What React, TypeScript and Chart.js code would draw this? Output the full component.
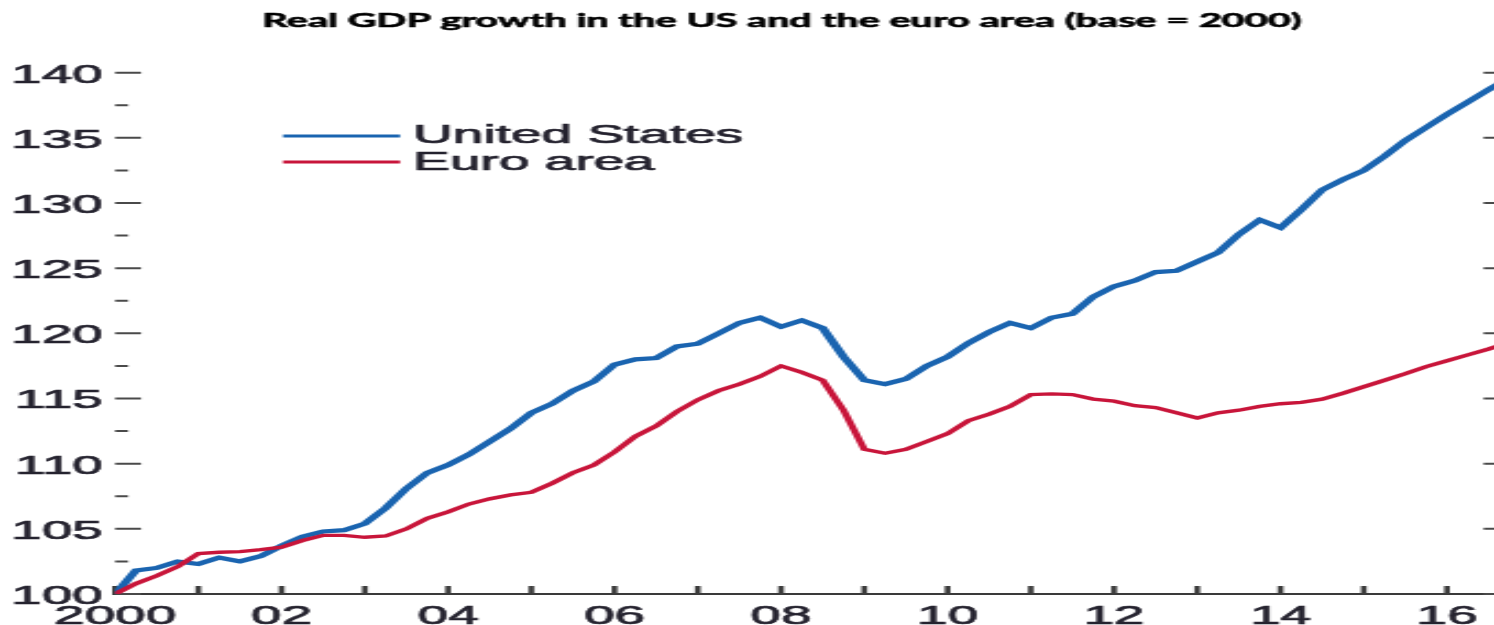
import React, { useEffect, useRef } from "react";
import { Chart, registerables } from "chart.js";

Chart.register(...registerables);

const TITLE = "Real GDP growth in the US and the euro area (base = 2000)";

const QUARTERS = [
  "2000Q1", "2000Q2", "2000Q3", "2000Q4",
  "2001Q1", "2001Q2", "2001Q3", "2001Q4",
  "2002Q1", "2002Q2", "2002Q3", "2002Q4",
  "2003Q1", "2003Q2", "2003Q3", "2003Q4",
  "2004Q1", "2004Q2", "2004Q3", "2004Q4",
  "2005Q1", "2005Q2", "2005Q3", "2005Q4",
  "2006Q1", "2006Q2", "2006Q3", "2006Q4",
  "2007Q1", "2007Q2", "2007Q3", "2007Q4",
  "2008Q1", "2008Q2", "2008Q3", "2008Q4",
  "2009Q1", "2009Q2", "2009Q3", "2009Q4",
  "2010Q1", "2010Q2", "2010Q3", "2010Q4",
  "2011Q1", "2011Q2", "2011Q3", "2011Q4",
  "2012Q1", "2012Q2", "2012Q3", "2012Q4",
  "2013Q1", "2013Q2", "2013Q3", "2013Q4",
  "2014Q1", "2014Q2", "2014Q3", "2014Q4",
  "2015Q1", "2015Q2", "2015Q3", "2015Q4",
  "2016Q1", "2016Q2", "2016Q3", "2016Q4",
];

const US = [
  100.0, 101.8, 102.0, 102.5,
  102.3, 102.8, 102.5, 102.9,
  103.7, 104.4, 104.8, 104.9,
  105.4, 106.6, 108.1, 109.3,
  109.9, 110.7, 111.7, 112.7,
  113.9, 114.6, 115.6, 116.3,
  117.6, 118.0, 118.1, 119.0,
  119.2, 120.0, 120.8, 121.2,
  120.5, 121.0, 120.4, 118.2,
  116.4, 116.1, 116.5, 117.5,
  118.2, 119.25, 120.1, 120.8,
  120.4, 121.2, 121.5, 122.8,
  123.6, 124.05, 124.7, 124.8,
  125.5, 126.2, 127.6, 128.7,
  128.1, 129.5, 131.0, 131.8,
  132.5, 133.6, 134.8, 135.8,
  136.8, 137.75, 138.7, 139.6,
];

const EA = [
  100.0, 100.8, 101.4, 102.1,
  103.1, 103.2, 103.25, 103.4,
  103.6, 104.1, 104.5, 104.5,
  104.35, 104.45, 105.0, 105.8,
  106.3, 106.9, 107.3, 107.6,
  107.8, 108.5, 109.3, 109.9,
  110.9, 112.1, 112.9, 114.0,
  114.9, 115.6, 116.1, 116.7,
  117.5, 117.0, 116.4, 114.1,
  111.1, 110.8, 111.1, 111.7,
  112.3, 113.3, 113.8, 114.4,
  115.3, 115.35, 115.3, 114.95,
  114.8, 114.45, 114.3, 113.9,
  113.5, 113.9, 114.1, 114.4,
  114.6, 114.7, 114.95, 115.4,
  115.9, 116.4, 116.9, 117.45,
  117.9, 118.35, 118.8, 119.3,
];

const SERIES_LABELS = ["United States", "Euro area"];
const SERIES_COLORS = ["#1a64b0", "#c8153a"];

const X_TICK_YEARS = [2000, 2001, 2002, 2003, 2004, 2005, 2006, 2007, 2008, 2009, 2010, 2011, 2012, 2013, 2014, 2015, 2016];
const X_LABEL_YEARS = [2000, 2002, 2004, 2006, 2008, 2010, 2012, 2014, 2016];
const X_LABELS = ["2000", "02", "04", "06", "08", "10", "12", "14", "16"];

const Y_MAJOR = [100, 105, 110, 115, 120, 125, 130, 135, 140];
const Y_MINOR = [102.5, 107.5, 112.5, 117.5, 122.5, 127.5, 132.5, 137.5];

const X_MIN = 2000;
const X_MAX = 2016.75;
const Y_MIN = 100;
const Y_MAX = 141;

// horizontal stretch of the whole picture (canvas drawn narrow, displayed wide)
const STRETCH = 2.2;
const CANVAS_W = 690;
const CANVAS_H = 625;

const quarterToX = (q: string) => {
  const y = parseInt(q.slice(0, 4), 10);
  const n = parseInt(q.slice(5), 10);
  return y + (n - 1) / 4;
};

const FONT_FAMILY = "'Liberation Sans', Arial, Helvetica, sans-serif";
const TEXT_COLOR = "#24222e";
const TICK_COLOR = "#4a4a4a";

const tickMarksPlugin = {
  id: "tickMarks",
  beforeDatasetsDraw(chart: any) {
    const { ctx, chartArea, scales } = chart;
    const xs = scales.x;
    const ys = scales.y;
    ctx.save();
    ctx.strokeStyle = TICK_COLOR;
    ctx.lineWidth = 2;
    const left = chartArea.left;
    const right = chartArea.right;
    const drawY = (v: number, len: number) => {
      const py = ys.getPixelForValue(v);
      ctx.beginPath();
      ctx.moveTo(left, py);
      ctx.lineTo(left + len, py);
      ctx.moveTo(right, py);
      ctx.lineTo(right - len, py);
      ctx.stroke();
    };
    Y_MAJOR.forEach((v) => drawY(v, 11.8));
    Y_MINOR.forEach((v) => drawY(v, 5.9));
    ctx.lineWidth = 2.6;
    ctx.strokeStyle = "#3c3c3c";
    X_TICK_YEARS.forEach((yr) => {
      const px = xs.getPixelForValue(yr);
      ctx.beginPath();
      ctx.moveTo(px, chartArea.bottom);
      ctx.lineTo(px, chartArea.bottom - 8);
      ctx.stroke();
    });
    ctx.restore();
  },
};

const titleLegendPlugin = {
  id: "titleLegend",
  afterDraw(chart: any) {
    const { ctx } = chart;
    ctx.save();
    // title
    ctx.fillStyle = "#000";
    ctx.strokeStyle = "#000";
    ctx.lineWidth = 0.6;
    ctx.font = "bold 18px Lato, 'Open Sans', sans-serif";
    ctx.textAlign = "center";
    ctx.textBaseline = "alphabetic";
    ctx.fillText(TITLE, 782 / STRETCH, 27);
    ctx.strokeText(TITLE, 782 / STRETCH, 27);
    // legend
    const rows = [136, 162];
    const textBase = [143, 170];
    chart.data.datasets.forEach((ds: any, i: number) => {
      ctx.strokeStyle = ds.borderColor;
      ctx.lineWidth = 3;
      ctx.beginPath();
      ctx.moveTo(283 / STRETCH, rows[i]);
      ctx.lineTo(400 / STRETCH, rows[i]);
      ctx.stroke();
      ctx.fillStyle = TEXT_COLOR;
      ctx.strokeStyle = TEXT_COLOR;
      ctx.lineWidth = 0.7;
      ctx.font = `25px ${FONT_FAMILY}`;
      ctx.textAlign = "left";
      ctx.textBaseline = "alphabetic";
      ctx.fillText(ds.label, 413 / STRETCH, textBase[i]);
      ctx.strokeText(ds.label, 413 / STRETCH, textBase[i]);
    });
    ctx.restore();
  },
};

export default function App() {
  const canvasRef = useRef<HTMLCanvasElement | null>(null);

  useEffect(() => {
    const canvas = canvasRef.current;
    if (!canvas) return;
    const xs = QUARTERS.map(quarterToX);
    const chart = new Chart(canvas, {
      type: "line",
      data: {
        datasets: [
          {
            label: SERIES_LABELS[0],
            data: xs.map((x, i) => ({ x, y: US[i] })),
            borderColor: SERIES_COLORS[0],
            backgroundColor: SERIES_COLORS[0],
            borderWidth: 4.2,
            pointRadius: 0,
            tension: 0,
            fill: false,
            order: 2,
          },
          {
            label: SERIES_LABELS[1],
            data: xs.map((x, i) => ({ x, y: EA[i] })),
            borderColor: SERIES_COLORS[1],
            backgroundColor: SERIES_COLORS[1],
            borderWidth: 3.4,
            pointRadius: 0,
            tension: 0,
            fill: false,
            order: 1,
          },
        ],
      },
      options: {
        responsive: false,
        animation: false,
        events: [],
        layout: { padding: { left: 0, right: 3.9, top: 59.6, bottom: 0 } },
        plugins: {
          legend: { display: false },
          title: { display: false },
          tooltip: { enabled: false },
        },
        scales: {
          x: {
            type: "linear",
            min: X_MIN,
            max: X_MAX,
            grid: { display: false, drawTicks: false },
            border: { display: true, color: "#3a3a3a", width: 2 },
            afterBuildTicks: (s: any) => {
              s.ticks = X_LABEL_YEARS.map((v) => ({ value: v }));
            },
            afterFit: (s: any) => {
              s.height = 31;
            },
            ticks: {
              autoSkip: false,
              maxRotation: 0,
              padding: 11,
              color: TEXT_COLOR,
              textStrokeColor: TEXT_COLOR,
              textStrokeWidth: 0.7,
              font: { family: FONT_FAMILY, size: 25, lineHeight: 1 },
              callback: (v: any) => {
                const i = X_LABEL_YEARS.indexOf(Number(v));
                return i >= 0 ? X_LABELS[i] : "";
              },
            },
          },
          y: {
            min: Y_MIN,
            max: Y_MAX,
            grid: { display: false, drawTicks: false },
            border: { display: false },
            afterBuildTicks: (s: any) => {
              s.ticks = Y_MAJOR.map((v) => ({ value: v }));
            },
            afterFit: (s: any) => {
              s.width = 52.3;
            },
            ticks: {
              padding: 5.6,
              labelOffset: 3,
              color: TEXT_COLOR,
              textStrokeColor: TEXT_COLOR,
              textStrokeWidth: 0.7,
              font: { family: FONT_FAMILY, size: 25, lineHeight: 1 },
              callback: (v: any) => String(v),
            },
          },
        },
      },
      plugins: [tickMarksPlugin, titleLegendPlugin],
    });
    return () => chart.destroy();
  }, []);

  return (
    <div
      style={{
        position: "absolute",
        left: 0,
        top: 0,
        width: 1494,
        height: CANVAS_H,
        overflow: "hidden",
        background: "#fff",
      }}
    >
      <canvas
        ref={canvasRef}
        width={CANVAS_W}
        height={CANVAS_H}
        style={{ width: `${CANVAS_W * STRETCH}px`, height: `${CANVAS_H}px`, display: "block" }}
      />
    </div>
  );
}
